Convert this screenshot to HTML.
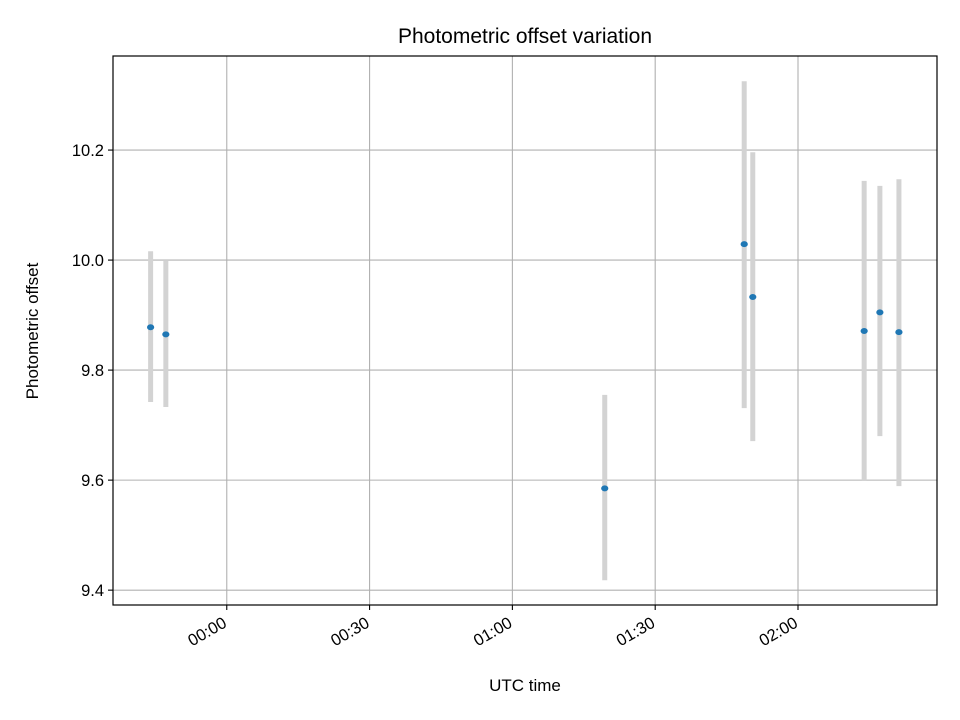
<!DOCTYPE html>
<html><head><meta charset="utf-8"><style>
body{margin:0;background:#fff;}
svg{display:block;font-family:"Liberation Sans","DejaVu Sans",sans-serif;}
</style></head><body>
<svg id="chart" width="960" height="720" viewBox="0 0 960 720">
<rect width="960" height="720" fill="#fff"/>
<g id="grid"></g>
<g id="bars"></g>
<g id="pts"></g>
<rect x="113" y="56" width="824" height="549" fill="none" stroke="#000" stroke-width="1.2"/>
<g id="ticks"></g>
<text x="525" y="43" text-anchor="middle" font-size="21">Photometric offset variation</text>
<text x="525" y="691" text-anchor="middle" font-size="17">UTC time</text>
<text transform="translate(38,331) rotate(-90)" text-anchor="middle" font-size="17">Photometric offset</text>
</svg>
<script>
const timesMin=[-16,-12.8,79.4,108.7,110.5,133.9,137.2,141.2];
const values=[9.878,9.865,9.585,10.029,9.933,9.871,9.905,9.869];
const lowers=[9.742,9.733,9.418,9.731,9.671,9.600,9.680,9.589];
const uppers=[10.016,10.000,9.755,10.325,10.196,10.144,10.135,10.147];
const yTicks=[9.4,9.6,9.8,10.0,10.2];
const xTicksMin=[0,30,60,90,120];
const xTickLabels=["00:00","00:30","01:00","01:30","02:00"];
const X0=113,X1=937,Y0=56,Y1=605,xmin=-23.9,xmax=149.2,ymin=9.373,ymax=10.371;
const xs=m=>X0+(m-xmin)/(xmax-xmin)*(X1-X0);
const ys=v=>Y1-(v-ymin)/(ymax-ymin)*(Y1-Y0);
const NS="http://www.w3.org/2000/svg";
function mk(t,a,p){const e=document.createElementNS(NS,t);for(const k in a)e.setAttribute(k,a[k]);p.appendChild(e);return e;}
const grid=document.getElementById('grid'),ticks=document.getElementById('ticks'),bars=document.getElementById('bars'),pts=document.getElementById('pts');
yTicks.forEach(v=>{const y=ys(v);
 const g=mk('line',{x1:X0,x2:X1,y1:y,y2:y,stroke:'#b0b0b0','stroke-width':1.1},grid);
 
 
 const t=mk('line',{x1:X0-5,x2:X0,y1:y,y2:y,stroke:'#000','stroke-width':1.1},ticks);
 
 
 const l=mk('text',{x:X0-9,y:y+6,'text-anchor':'end','font-size':16.5},ticks);l.textContent=v.toFixed(1);
 
 
});
xTicksMin.forEach((m,i)=>{const x=xs(m);
 const g=mk('line',{x1:x,x2:x,y1:Y0,y2:Y1,stroke:'#b0b0b0','stroke-width':1.1},grid);
 
 
 const t=mk('line',{x1:x,x2:x,y1:Y1,y2:Y1+5,stroke:'#000','stroke-width':1.1},ticks);
 
 
 const l=mk('text',{transform:`translate(${x+1},${Y1+21}) rotate(-30)`,'text-anchor':'end','font-size':16.5},ticks);l.textContent=xTickLabels[i];
 
 
});
timesMin.forEach((m,i)=>{const x=xs(m);
 const b=mk('line',{x1:x,x2:x,y1:ys(uppers[i]),y2:ys(lowers[i]),stroke:'#d3d3d3','stroke-width':5},bars);
 
 
 const c=mk('ellipse',{cx:x,cy:ys(values[i]),rx:3.6,ry:3,fill:'#1f77b4'},pts);
 
 
});
</script>
</body></html>
